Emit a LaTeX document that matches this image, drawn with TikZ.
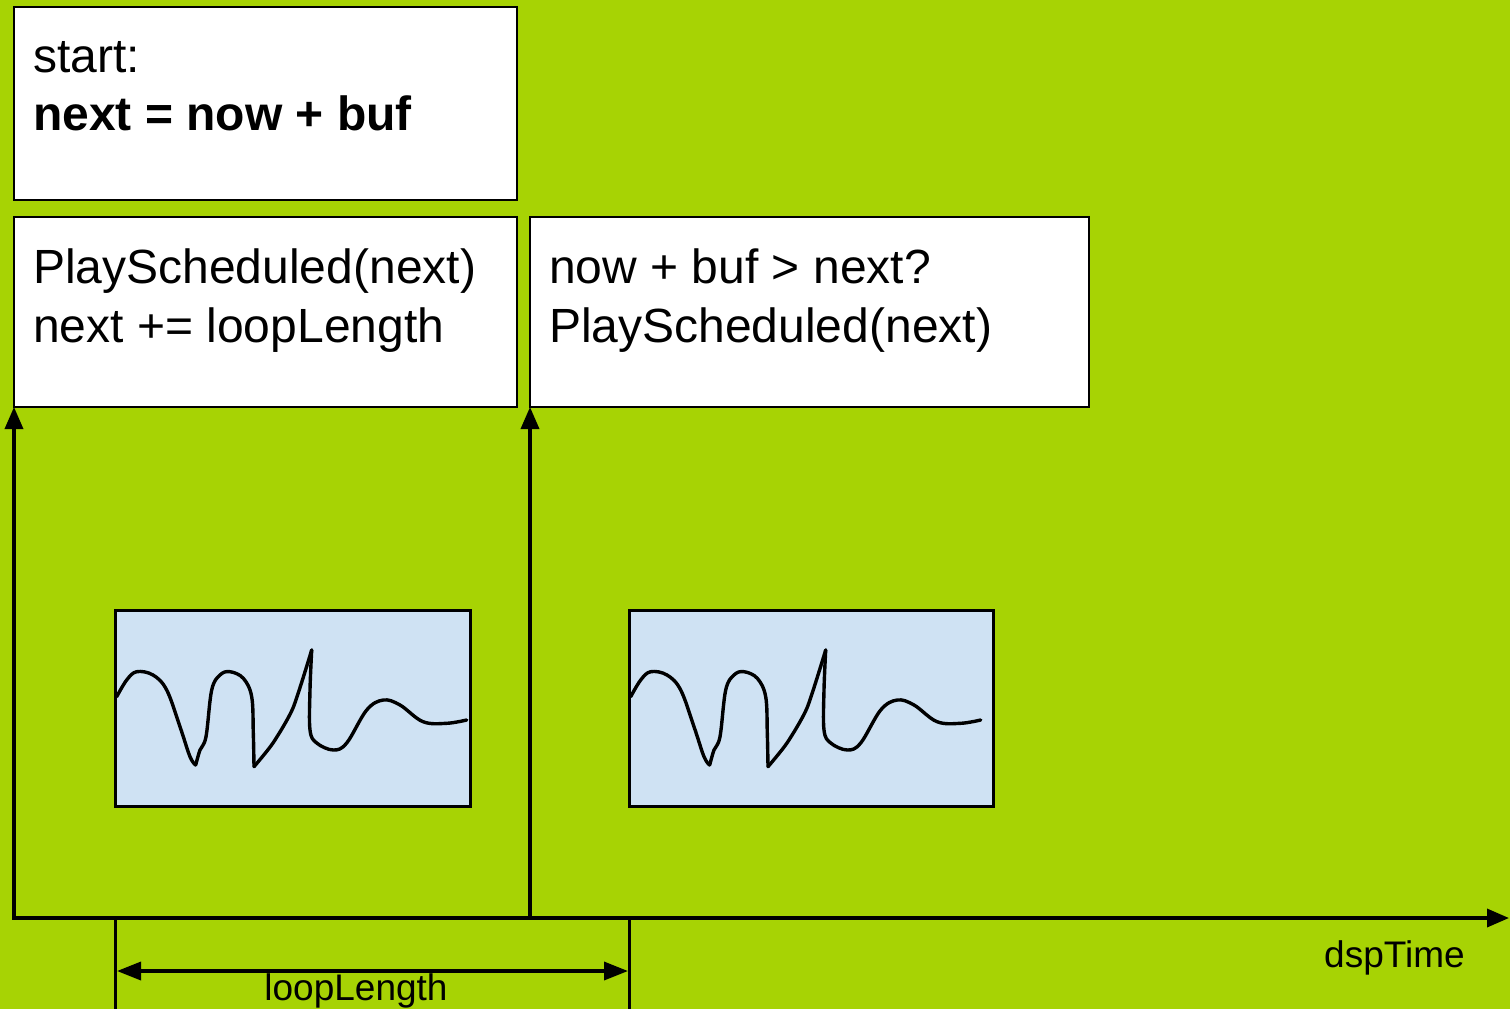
\documentclass[tikz,border=0pt]{standalone}
\usepackage{fontspec}
\setmainfont{Liberation Sans}
\usetikzlibrary{arrows.meta}
\definecolor{bggreen}{HTML}{A7D304}
\definecolor{wavebg}{HTML}{CFE2F3}
\newcommand{\mywave}{%
  \draw[wave] plot[smooth,tension=0.6] coordinates {(116.7,696.7) (126.7,680) (136.7,671.7) (153,675) (166.7,690) (180,726.7) (190,756.7) (195.7,765)};
  \draw[wave] plot[smooth,tension=0.6] coordinates {(195.7,765) (200,750) (206,736.7) (211.7,690) (220,675) (230,671.7) (243.3,678.3) (251.7,696.7) (253.3,733) (254,766.7)};
  \draw[wave] plot[smooth,tension=0.4] coordinates {(254,766.7) (273,743) (293,708) (311.7,650)};
  \draw[wave] plot[smooth,tension=0.6] coordinates {(311.7,650) (310,690) (310,730) (316.7,743) (333.3,750) (346.7,743) (366.7,710) (383.3,700) (400,705) (423,721.7) (446.7,723.3) (466.7,720)};
}
\begin{document}
\begin{tikzpicture}[x=1pt,y=-1pt,
  box/.style={draw=black, line width=2pt, fill=white, anchor=north west, inner sep=0pt, outer sep=0pt},
  wavebox/.style={draw=black, line width=3pt, fill=wavebg, anchor=north west, inner sep=0pt, outer sep=0pt},
  big/.style={font=\fontsize{48}{58}\selectfont, anchor=base west, inner sep=0pt},
  bigbold/.style={font=\fontsize{48}{58}\selectfont\bfseries, anchor=base west, inner sep=0pt},
  small/.style={font=\fontsize{37}{44}\selectfont, inner sep=0pt},
  axis/.style={line width=3.5pt},
  tip/.style={-{Triangle[length=22pt,width=18pt]}},
  dimtip/.style={{Triangle[length=24pt,width=18pt]}-{Triangle[length=24pt,width=18pt]}},
  wave/.style={line width=3.4pt, line cap=round, line join=round}]
\fill[bggreen] (0,0) rectangle (1510,1009);
\useasboundingbox (0,0) rectangle (1510,1009);

% boxes
\node[box, minimum width=503pt, minimum height=193pt] (startbox) at (14,7) {};
\node[box, minimum width=503pt, minimum height=190pt] (play) at (14,217) {};
\node[box, minimum width=559pt, minimum height=190pt] (check) at (530,217) {};

\node[big] (t1) at (33,72) {start:};
\node[bigbold] (t2) at (33,130) {next = now + buf};
\node[big] (t3) at (33,283) {PlayScheduled(next)};
\node[big] (t4) at (33,342) {next += loopLength};
\node[big] (t5) at (549,283) {now + buf > next?};
\node[big] (t6) at (549,342) {PlayScheduled(next)};

% wave boxes
\node[wavebox, minimum width=355pt, minimum height=196pt] (wa) at (115,610) {};
\node[wavebox, minimum width=364pt, minimum height=196pt] (wb) at (629,610) {};
\mywave
\begin{scope}[shift={(514,0)}]
\mywave
\end{scope}

% axes
\coordinate (o) at (14,918);
\coordinate (o2) at (530,918);
\coordinate (xend) at (1509,918);
\draw[axis, tip] (o) -- (xend);
\draw[axis, tip, line cap=rect] (o) -- (play.south west);
\draw[axis, tip] (o2) -- (check.south west);

% ticks and dimension
\coordinate (ta) at (115,918);
\coordinate (tab) at (115,1009);
\coordinate (tb) at (629,918);
\coordinate (tbb) at (629,1009);
\draw[line width=3pt] (ta) -- (tab);
\draw[line width=3pt] (tb) -- (tbb);
\coordinate (d1) at (117,971);
\coordinate (d2) at (628,971);
\draw[line width=3.5pt, dimtip] (d1) -- (d2);

\node[small, anchor=base] (ll) at (356,1000) {loopLength};
\node[small, anchor=base west] (dt) at (1324,967) {dspTime};
\end{tikzpicture}
\end{document}
